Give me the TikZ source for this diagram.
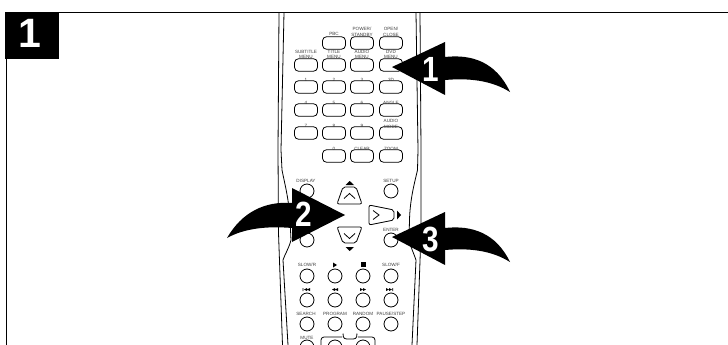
\documentclass[tikz,border=0pt]{standalone}
\usepackage{fontspec}
\setmainfont{Liberation Sans}
\tikzset{
  x=1pt,y=-1pt,
  rule/.style={line width=1pt,black},
  shell/.style={line width=0.8pt,black},
  keyrect/.style={draw=black,line width=0.8pt,fill=white,rounded corners=4pt,minimum width=23pt,minimum height=12.5pt,inner sep=0pt},
  keyround/.style={draw=black,line width=0.8pt,fill=white,circle,minimum size=14pt,inner sep=0pt},
  lab/.style={font=\fontsize{4.6}{5.6}\selectfont,text=black!75,inner sep=0pt,align=center},
  padkey/.style={draw=black,line width=0.8pt,fill=white,rounded corners=2pt},
  padmark/.style={draw=black,line width=0.8pt},
  bigarrow/.style={fill=black,draw=none},
  num/.style={font=\fontsize{35}{35}\selectfont\bfseries,text=white,inner sep=0pt,xscale=.85,transform shape},
  tri/.style={fill=black,draw=none}
}
\begin{document}
\begin{tikzpicture}
\useasboundingbox (0,0) rectangle (728,345);
\fill[white] (0,0) rectangle (728,345);
% frame
\coordinate (topright) at (728,12.5);
\coordinate (leftbot) at (6,345);
\node[fill=black,minimum width=54pt,minimum height=47pt,inner sep=0pt,anchor=north west] (badge) at (5,12) {};
\node[font=\fontsize{41}{41}\selectfont\bfseries,text=white,inner sep=0pt] (badgenum) at (30,33) {1};
\draw[rule] (badge.north east |- topright) -- (topright);
\draw[rule] (leftbot |- badge.south) -- (leftbot);
% remote shell
\draw[shell] (279,12.5) -- (278,150) -- (278.5,233) -- (282.5,345);
\draw[shell] (284,12.5) -- (281,150) -- (282,170) .. controls (285,185) and (289,200) .. (290,220) -- (291,240) .. controls (289,248) and (285,254) .. (283,260) -- (288,345);
\draw[shell] (420,12.5) -- (421,150) -- (421,233) -- (417,345);
\draw[shell] (416,12.5) -- (418,150) -- (417.5,170) .. controls (414,185) and (410,200) .. (409.5,220) -- (409,240) .. controls (411,248) and (414,254) .. (416,260) -- (412,345);
% rectangular keys
\foreach \n/\cx/\cy in {a1/334/43,a2/362/43,a3/391/43,
  b0/306/65,b1/334/65,b2/362/65,b3/391/65,
  c0/306/87,c1/334/87,c2/362/87,c3/391/87,
  d0/306/110,d1/334/110,d2/362/110,d3/391/110,
  e0/306/133,e1/334/133,e2/362/133,e3/391/133,
  f1/334/156,f2/362/156,f3/391/156}
  \node[keyrect] (k\n) at (\cx,\cy) {};
% labels of rectangular keys
\foreach \cx/\cy/\t in {334/34/PBC,362/32/{POWER/\\STANDBY},391/32/{OPEN/\\CLOSE},
  306/54.5/{SUBTITLE\\MENU},334/54.5/{TITLE\\MENU},362/54.5/{AUDIO\\MENU},391/54.5/{DVD\\MENU},
  306/80/1,334/80/2,362/80/3,391/80/3D,
  306/103/4,334/103/5,362/103/6,391/103/ANGLE,
  306/126/7,334/126/8,362/126/9,391/124/{AUDIO\\MODE},
  334/149/0,362/149/CLEAR,391/149/ZOOM}
  \node[lab] at (\cx,\cy) {\t};
% round keys
\foreach \n/\cx/\cy in {r1/307/191,r2/391/191,r3/307/240,r4/391/240,
  s1/307/276,s2/335/276,s3/363/276,s4/391/276,
  t1/307/300,t2/335/300,t3/363/300,t4/391/300,
  u1/307/324,u2/335/324,u3/363/324,u4/391/324,
  v1/307/347,v2/335/347,v3/363/347}
  \node[keyround] (k\n) at (\cx,\cy) {};
\foreach \cx/\cy/\t in {306/181/DISPLAY,391/181/SETUP,391/230/ENTER,
  307/265/{SLOW/R},391/265/{SLOW/F},
  306/314/SEARCH,335/314/PROGRAM,363/314/RANDOM,391/314/{PAUSE/STEP},307/338/MUTE}
  \node[lab] at (\cx,\cy) {\t};
% media symbols
\fill[tri] (333,262.5) -- (333,267.5) -- (337,265) -- cycle;
\fill[tri] (361,262) rectangle (365.5,267);
\fill[tri] (302.5,288) rectangle (303.3,291) (307,288) -- (304,289.5) -- (307,291) -- cycle (310,288) -- (307,289.5) -- (310,291) -- cycle;
\fill[tri] (335,288) -- (332,289.5) -- (335,291) -- cycle (338,288) -- (335,289.5) -- (338,291) -- cycle;
\fill[tri] (360,288) -- (363,289.5) -- (360,291) -- cycle (363,288) -- (366,289.5) -- (363,291) -- cycle;
\fill[tri] (386,288) -- (389,289.5) -- (386,291) -- cycle (389,288) -- (392,289.5) -- (389,291) -- cycle (392.3,288) rectangle (393.1,291);
% bottom rocker frame
\draw[shell,rounded corners=3pt] (321,346) -- (321,337) -- (342,337);
\draw[shell,rounded corners=3pt] (358,337) -- (375,337) -- (375,346);
\draw[shell] (343,333.5) .. controls (343,339.5) and (345,339) .. (350,339) .. controls (355,339) and (357,339.5) .. (357,333.5);
% d-pad
\draw[padkey] (343,187) -- (356,187) -- (362,204) -- (337,204) -- cycle;
\draw[padmark] (344,198.5) -- (349.5,193.5) -- (355,198.5);
\fill[tri] (345.5,185) -- (354,185) -- (349.7,181) -- cycle;
\draw[padkey] (337,227) -- (362,227) -- (356,243) -- (343,243) -- cycle;
\draw[padmark] (344,233.5) -- (349.5,238.5) -- (355,233.5);
\fill[tri] (345.5,247) -- (354,247) -- (349.7,251) -- cycle;
\draw[padkey] (369,205) -- (369,225) -- (394,220) -- (394,210) -- cycle;
\draw[padmark] (373,210.5) -- (379,215) -- (373,219.5);
\fill[tri] (397,210.5) -- (397,219.5) -- (401,215) -- cycle;
% big arrows
\fill[bigarrow] (392,67) -- (445,42) -- (445,57) .. controls (472,54) and (496,62) .. (510,92) .. controls (491,80) and (468,78) .. (445,80) -- (445,95) -- cycle;
\fill[bigarrow] (345,215) -- (292,188) -- (292,203) .. controls (265,201) and (242,212) .. (227,238) .. controls (245,228) and (268,226) .. (292,228) -- (292,242) -- cycle;
\fill[bigarrow] (392,237) -- (445,212) -- (445,228) .. controls (472,225) and (496,233) .. (510,262) .. controls (491,250) and (468,248) .. (445,250) -- (445,265) -- cycle;
\node[num] (n1) at (430.5,69.5) {1};
\node[num] (n2) at (304,214) {2};
\node[num] (n3) at (431,239.5) {3};
\end{tikzpicture}
\end{document}
